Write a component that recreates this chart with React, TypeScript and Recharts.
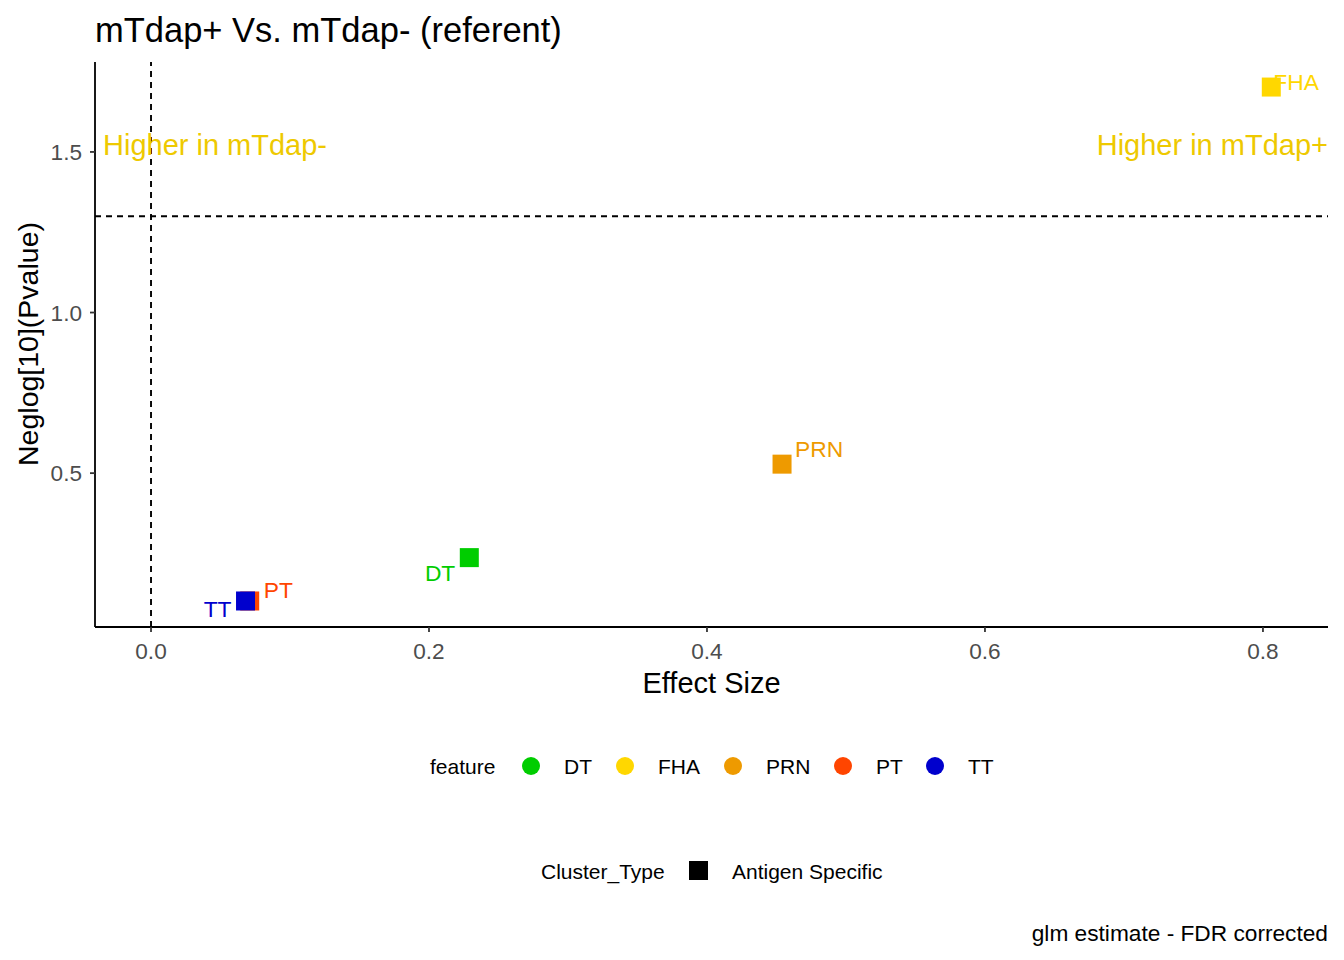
import React from 'react';
import {
  ScatterChart, Scatter, XAxis, YAxis, ReferenceLine, LabelList,
} from 'recharts';

const FEATURES = ['DT', 'FHA', 'PRN', 'PT', 'TT'];
const EFFECT = [0.229, 0.806, 0.454, 0.071, 0.068];
const NEGLOG_P = [0.237, 1.702, 0.528, 0.102, 0.102];
const COLORS = ['#00CD00', '#FFD700', '#EE9A00', '#FF4500', '#0000CD'];
const X_TICKS = [0, 0.2, 0.4, 0.6, 0.8];
const Y_TICKS = [0.5, 1.0, 1.5];

// label nudges (px) relative to the point, like ggrepel left them
const NUDGE: Record<string, { dx: number; dy: number; anchor: 'start' | 'end' }> = {
  DT: { dx: -14, dy: 15, anchor: 'end' },
  FHA: { dx: 2, dy: -5, anchor: 'start' },
  PRN: { dx: 13, dy: -15, anchor: 'start' },
  PT: { dx: 14, dy: -11, anchor: 'start' },
  TT: { dx: -14, dy: 8, anchor: 'end' },
};

const FONT = '"Liberation Sans", Arial, sans-serif';

const points = FEATURES.map((f, i) => ({ feature: f, x: EFFECT[i], y: NEGLOG_P[i], color: COLORS[i] }));

const Square = (props: any) => {
  const { cx, cy, payload } = props;
  return <rect x={cx - 9.5} y={cy - 9.5} width={19} height={19} fill={payload.color} />;
};

const PointLabel = (props: any) => {
  const { x, y, width, height, value, index } = props;
  const p = points[index];
  const n = NUDGE[value];
  const cx = x + (width ?? 0) / 2;
  const cy = y + (height ?? 0) / 2;
  return (
    <text x={cx + n.dx} y={cy + n.dy} dy="0.35em" textAnchor={n.anchor}
      fill={p.color} fontSize={22.8} fontFamily={FONT}>
      {value}
    </text>
  );
};

export default function App() {
  return (
    <div style={{ position: 'absolute', left: 0, top: 0, width: 1344, height: 960, background: '#fff', fontFamily: FONT }}>
      <ScatterChart width={1344} height={960} margin={{ top: 62, right: 16, left: 35, bottom: 263 }}>
        <XAxis type="number" dataKey="x" domain={[-0.0403, 0.8468]} ticks={X_TICKS} allowDataOverflow
          tickFormatter={(v: number) => v.toFixed(1)} height={70}
          axisLine={{ stroke: '#000', strokeWidth: 1.8 }} tickLine={{ stroke: '#333', strokeWidth: 1.8 }}
          tickSize={5} tickMargin={11}
          tick={{ fill: '#4D4D4D', fontSize: 22.6, fontFamily: FONT }}
          label={{ value: 'Effect Size', position: 'insideBottom', offset: 4, fill: '#000', fontSize: 29, fontFamily: FONT }} />
        <YAxis type="number" dataKey="y" domain={[0.021, 1.78]} ticks={Y_TICKS} allowDataOverflow
          tickFormatter={(v: number) => v.toFixed(1)} width={60}
          axisLine={{ stroke: '#000', strokeWidth: 1.8 }} tickLine={{ stroke: '#333', strokeWidth: 1.8 }}
          tickSize={5} tickMargin={8}
          tick={{ fill: '#4D4D4D', fontSize: 22.6, fontFamily: FONT }} />
        <ReferenceLine x={0} stroke="#000" strokeDasharray="6 5" strokeWidth={1.9} />
        <ReferenceLine y={1.3} stroke="#000" strokeDasharray="6 5" strokeWidth={1.9} />
        <Scatter data={points} shape={<Square />} isAnimationActive={false}>
          <LabelList dataKey="feature" content={<PointLabel />} />
        </Scatter>
      </ScatterChart>

      <svg width={1344} height={960} style={{ position: 'absolute', left: 0, top: 0, pointerEvents: 'none' }} fontFamily={FONT}>
        <text x={95} y={30} dy="0.35em" fontSize={34.5} fill="#000">mTdap+ Vs. mTdap- (referent)</text>
        <text transform="translate(28,344) rotate(-90)" textAnchor="middle" dy="0.35em" fontSize={28.5} fill="#000">Neglog[10](Pvalue)</text>
        <text x={103} y={145} dy="0.35em" fontSize={29} fill="#EEC900">Higher in mTdap-</text>
        <text x={1328} y={145} dy="0.35em" fontSize={29} fill="#EEC900" textAnchor="end">Higher in mTdap+</text>

        <text x={430} y={767} dy="0.35em" fontSize={21} fill="#000">feature</text>
        {FEATURES.map((f, i) => {
          const cx = [531, 625, 733, 843, 935][i];
          return (
            <g key={f}>
              <circle cx={cx} cy={766} r={9} fill={COLORS[i]} />
              <text x={cx + 33} y={767} dy="0.35em" fontSize={21} fill="#000">{f}</text>
            </g>
          );
        })}

        <text x={541} y={872} dy="0.35em" fontSize={21} fill="#000">Cluster_Type</text>
        <rect x={689} y={861} width={19} height={19} fill="#000" />
        <text x={732} y={872} dy="0.35em" fontSize={21} fill="#000">Antigen Specific</text>

        <text x={1328} y={933} dy="0.35em" fontSize={22.7} fill="#000" textAnchor="end">glm estimate - FDR corrected</text>
      </svg>
    </div>
  );
}
